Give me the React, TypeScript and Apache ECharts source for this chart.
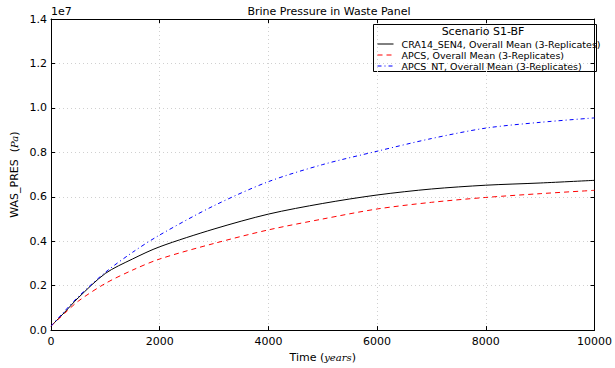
import React, { useEffect, useRef } from "react";
import * as echarts from "echarts";

const years = [0, 250, 500, 1000, 1500, 2000, 3000, 4000, 5000, 6000, 7000, 8000, 9000, 10000];
const craSen4 = [0.018, 0.08, 0.145, 0.255, 0.32, 0.375, 0.455, 0.522, 0.57, 0.608, 0.635, 0.652, 0.662, 0.674];
const apcs = [0.018, 0.075, 0.13, 0.21, 0.27, 0.32, 0.39, 0.451, 0.5, 0.545, 0.575, 0.597, 0.614, 0.629];
const apcsNt = [0.018, 0.085, 0.15, 0.26, 0.35, 0.428, 0.56, 0.668, 0.745, 0.805, 0.862, 0.909, 0.935, 0.955];
const seriesNames = [
  "CRA14_SEN4, Overall Mean (3-Replicates)",
  "APCS, Overall Mean (3-Replicates)",
  "APCS_NT, Overall Mean (3-Replicates)",
];
const SCALE = 1e7;
const FONT = "DejaVu Sans";

const toPairs = (vals: number[]) => years.map((t, i) => [t, vals[i] * SCALE]);

export default function App() {
  const ref = useRef<HTMLDivElement>(null);
  useEffect(() => {
    const chart = echarts.init(ref.current!, undefined, { renderer: "svg" });
    const gridLine = { show: true, lineStyle: { color: "#d0d0d0", type: [1, 3] as any, width: 1 } };
    const axisLine = { show: true, onZero: false, lineStyle: { color: "#000", width: 1 } };
    const tick = { show: true, inside: true, length: 4, lineStyle: { color: "#000" } };
    chart.setOption({
      animation: false,
      textStyle: { fontFamily: FONT },
      title: {
        text: "Brine Pressure in Waste Panel",
        left: 324,
        top: 1,
        textAlign: "center",
        textStyle: { fontFamily: FONT, fontSize: 11, fontWeight: "normal", color: "#000" },
      },
      grid: { left: 51, right: 17, top: 19, bottom: 35, containLabel: false },
      legend: {
        orient: "vertical",
        left: 377,
        top: 39,
        itemWidth: 16,
        itemHeight: 8,
        itemGap: 1,
        padding: 0,
        itemStyle: { opacity: 0 },
        lineStyle: { width: 1 },
        textStyle: { fontFamily: FONT, fontSize: 9.5, lineHeight: 9, color: "#000", padding: [0, 0, 0, 3] },
        data: seriesNames,
      },
      graphic: [
        { type: "rect", shape: { x: 373.5, y: 24.5, width: 223, height: 47 }, style: { fill: "#fff", stroke: "#000", lineWidth: 1 }, z: 0, silent: true },
        { type: "text", x: 483, y: 26, style: { text: "Scenario S1-BF", fontFamily: FONT, fontSize: 11, fill: "#000", textAlign: "center" }, z: 1 },
        { type: "text", x: 51, y: 6, style: { text: "1e7", fontFamily: FONT, fontSize: 11, fill: "#000" } },
      ],
      xAxis: [
        {
          type: "value",
          min: 0,
          max: 10000,
          interval: 2000,
          name: "Time ({i|years})",
          nameLocation: "middle",
          nameGap: 20,
          nameTextStyle: {
            fontFamily: FONT,
            fontSize: 11,
            color: "#000",
            rich: { i: { fontFamily: "DejaVu Serif", fontStyle: "italic", fontSize: 10 } },
          },
          axisLine,
          axisTick: tick,
          axisLabel: { fontFamily: FONT, fontSize: 11, color: "#000", margin: 6, formatter: (v: number) => String(v) },
          splitLine: gridLine,
        },
        {
          type: "value",
          position: "top",
          min: 0,
          max: 10000,
          interval: 2000,
          axisLine,
          axisTick: tick,
          axisLabel: { show: false },
          splitLine: { show: false },
        },
      ],
      yAxis: [
        {
          type: "value",
          min: 0,
          max: 1.4e7,
          interval: 0.2e7,
          name: "WAS_PRES  ({i|Pa})",
          nameLocation: "middle",
          nameGap: 31,
          nameMoveOverlap: false,
          nameTextStyle: {
            fontFamily: FONT,
            fontSize: 11,
            color: "#000",
            rich: { i: { fontFamily: "DejaVu Serif", fontStyle: "italic", fontSize: 10 } },
          },
          axisLine,
          axisTick: tick,
          axisLabel: {
            fontFamily: FONT,
            fontSize: 11,
            color: "#000",
            margin: 4,
            formatter: (v: number) => (v / SCALE).toFixed(1),
          },
          splitLine: gridLine,
        },
        {
          type: "value",
          position: "right",
          min: 0,
          max: 1.4e7,
          interval: 0.2e7,
          axisLine,
          axisTick: tick,
          axisLabel: { show: false },
          splitLine: { show: false },
        },
      ],
      series: [
        {
          name: seriesNames[0],
          type: "line",
          smooth: 0.3,
          symbol: "none",
          data: toPairs(craSen4),
          itemStyle: { color: "#000" },
          lineStyle: { color: "#000", width: 1 },
          z: 3,
        },
        {
          name: seriesNames[1],
          type: "line",
          smooth: 0.3,
          symbol: "none",
          data: toPairs(apcs),
          itemStyle: { color: "#ff0000" },
          lineStyle: { color: "#ff0000", width: 1, type: [5, 4] as any },
          z: 3,
        },
        {
          name: seriesNames[2],
          type: "line",
          smooth: 0.3,
          symbol: "none",
          data: toPairs(apcsNt),
          itemStyle: { color: "#0000ff" },
          lineStyle: { color: "#0000ff", width: 1, type: [4, 3, 1, 3] as any },
          z: 3,
        },
      ],
    });
    return () => chart.dispose();
  }, []);
  return <div ref={ref} style={{ width: 615, height: 368, position: "absolute", left: 0, top: 0 }} />;
}
